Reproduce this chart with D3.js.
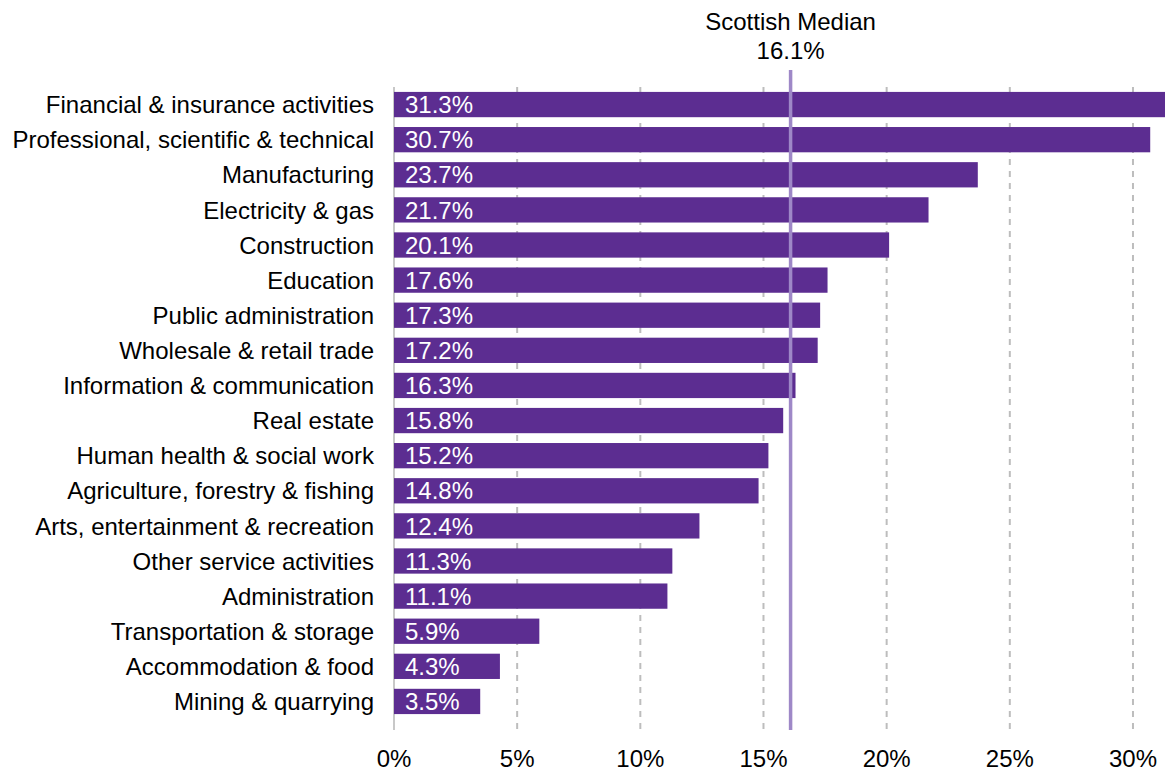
<!DOCTYPE html>
<html>
<head>
<meta charset="utf-8">
<script src="https://cdn.jsdelivr.net/npm/d3@7"></script>
<style>
  body { margin: 0; background: #fff; }
  svg { display: block; font-family: "Liberation Sans", Arial, sans-serif; }
</style>
</head>
<body>
<svg id="chart" width="1165" height="772"></svg>
<script>
// sectors and their median values (%)
const sectors = [
  "Financial & insurance activities",
  "Professional, scientific & technical",
  "Manufacturing",
  "Electricity & gas",
  "Construction",
  "Education",
  "Public administration",
  "Wholesale & retail trade",
  "Information & communication",
  "Real estate",
  "Human health & social work",
  "Agriculture, forestry & fishing",
  "Arts, entertainment & recreation",
  "Other service activities",
  "Administration",
  "Transportation & storage",
  "Accommodation & food",
  "Mining & quarrying"
];
const values = [31.3, 30.7, 23.7, 21.7, 20.1, 17.6, 17.3, 17.2, 16.3, 15.8, 15.2, 14.8, 12.4, 11.3, 11.1, 5.9, 4.3, 3.5];
const ticks = [0, 5, 10, 15, 20, 25, 30];
const median = 16.1;

const svg = d3.select("#chart");
const plotLeft = 394, plotRight = 1165;
const plotTop = 87, gridBottom = 730;
const fs = 24;

const x = d3.scaleLinear().domain([0, 31.3]).range([plotLeft, plotRight]);
const y = d3.scaleBand().domain(sectors).range([plotTop, 719]).paddingInner(0.28).paddingOuter(0.14);

// dashed gridlines
svg.append("g")
  .selectAll("line")
  .data(ticks.filter(t => t > 0))
  .join("line")
  .attr("x1", d => x(d)).attr("x2", d => x(d))
  .attr("y1", plotTop).attr("y2", gridBottom)
  .attr("stroke", "#bdbdbd")
  .attr("stroke-width", 2)
  .attr("stroke-dasharray", "6,6");

// zero axis
svg.append("line")
  .attr("x1", x(0)).attr("x2", x(0))
  .attr("y1", plotTop).attr("y2", gridBottom)
  .attr("stroke", "#c8c8c8")
  .attr("stroke-width", 2);

// tick labels
svg.append("g")
  .selectAll("text")
  .data(ticks)
  .join("text")
  .attr("x", d => x(d))
  .attr("y", 767)
  .attr("text-anchor", "middle")
  .attr("font-size", fs)
  .attr("fill", "#000")
  .text(d => d + "%");

// bars
svg.append("g")
  .selectAll("rect")
  .data(values)
  .join("rect")
  .attr("x", x(0))
  .attr("y", (d, i) => y(sectors[i]))
  .attr("width", d => x(d) - x(0))
  .attr("height", y.bandwidth())
  .attr("fill", "#5c2d91");

// value labels
svg.append("g")
  .selectAll("text")
  .data(values)
  .join("text")
  .attr("x", x(0) + 11)
  .attr("y", (d, i) => y(sectors[i]) + y.bandwidth() / 2)
  .attr("dy", "0.36em")
  .attr("font-size", fs)
  .attr("fill", "#fff")
  .text(d => d.toFixed(1) + "%");

// category labels
svg.append("g")
  .selectAll("text")
  .data(sectors)
  .join("text")
  .attr("x", 374)
  .attr("y", d => y(d) + y.bandwidth() / 2)
  .attr("dy", "0.36em")
  .attr("text-anchor", "end")
  .attr("font-size", fs)
  .attr("fill", "#000")
  .text(d => d);

// median line
svg.append("line")
  .attr("x1", x(median)).attr("x2", x(median))
  .attr("y1", 70).attr("y2", gridBottom)
  .attr("stroke", "#9e88c7")
  .attr("stroke-width", 3.5);

svg.append("text")
  .attr("x", x(median))
  .attr("y", 30)
  .attr("text-anchor", "middle")
  .attr("font-size", fs)
  .text("Scottish Median");
svg.append("text")
  .attr("x", x(median))
  .attr("y", 59)
  .attr("text-anchor", "middle")
  .attr("font-size", fs)
  .text(median.toFixed(1) + "%");
</script>
</body>
</html>
